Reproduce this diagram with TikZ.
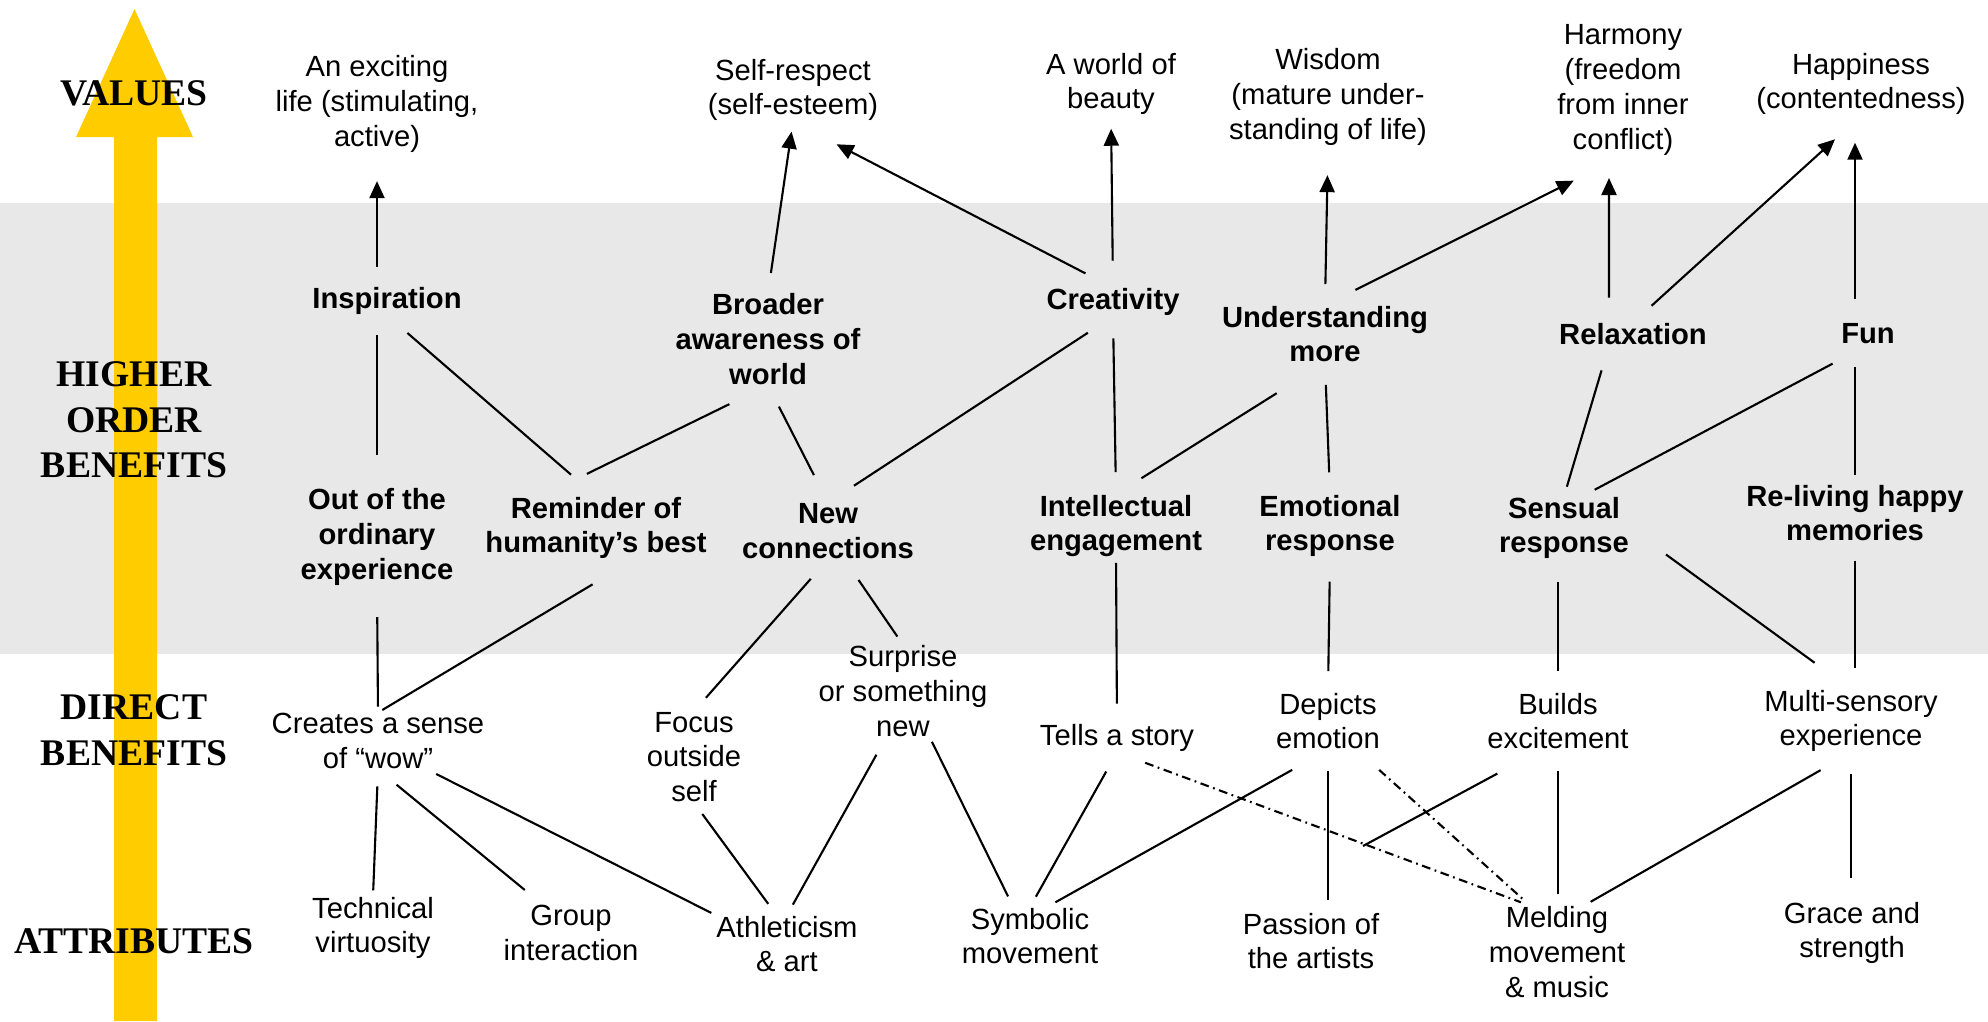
\documentclass[tikz,border=0pt]{standalone}
\usepackage{fontspec}
\setmainfont{Liberation Sans}
\newfontfamily\levelfont{Liberation Serif}
\usetikzlibrary{arrows.meta}

\definecolor{bandgray}{HTML}{E8E8E8}
\definecolor{ladder}{HTML}{FFCC00}

\tikzset{
  item/.style={align=center, inner sep=0pt, font=\fontsize{8.3}{9.9}\selectfont},
  benefit/.style={item, font=\fontsize{8.3}{9.9}\selectfont\bfseries},
  level/.style={align=center, inner sep=0pt, font=\levelfont\bfseries\fontsize{10.7}{13}\selectfont},
  link/.style={line width=0.6pt, shorten <=0.2cm, shorten >=0.2cm},
  lead/.style={link, -{Triangle[length=0.17cm,width=0.15cm]}},
  maybe/.style={link, dash pattern=on 2.5pt off 1.3pt on 0.5pt off 1.3pt},
}

\begin{document}
\begin{tikzpicture}[x=0.01cm, y=-0.01cm]
  % pixel grid of the slide, y runs downwards
  \useasboundingbox (0,0) rectangle (1988,1021);

  % grey band behind the higher order benefits
  \fill[bandgray] (0,203) rectangle (1988,654);

  % the yellow ladder arrow
  \fill[ladder] (114,1021) -- (114,137) -- (76,137) -- (134.5,9) --
                (193,137) -- (157,137) -- (157,1021) -- cycle;

  % level names
  \node[level] (lvalues) at (134,93) {VALUES};
  \node[level] (lhigher) at (134,420) {HIGHER\\ORDER\\BENEFITS};
  \node[level] (ldirect) at (134,730) {DIRECT\\BENEFITS};
  \node[level] (lattr)   at (134,941) {ATTRIBUTES};

  % values
  \node[item] (life)    at (377,104)  {An exciting\\life (stimulating,\\active)};
  \node[item] (respect) at (793,90)   {Self-respect\\(self-esteem)};
  \node[item] (beauty)  at (1111,84)  {A world of\\beauty};
  \node[item] (wisdom)  at (1328,97)  {Wisdom\\(mature under-\\standing of life)};
  \node[item] (harmony) at (1623,90)  {Harmony\\(freedom\\from inner\\conflict)};
  \node[item] (happy)   at (1861,84)  {Happiness\\(contentedness)};

  % higher order benefits, upper row
  \node[benefit] (insp)    at (387,301)  {Inspiration};
  \node[benefit] (broader) at (768,339)  {Broader\\awareness of\\world};
  \node[benefit] (creat)   at (1113,302) {Creativity};
  \node[benefit] (under)   at (1325,334) {Understanding\\more};
  \node[benefit] (relax)   at (1633,334) {Relaxation};
  \node[benefit] (fun)     at (1868,334) {Fun};

  % higher order benefits, lower row
  \node[benefit] (out)   at (377,537)  {Out of the\\ordinary\\experience};
  \node[benefit] (rem)   at (596,528)  {Reminder of\\humanity’s best};
  \node[benefit] (newc)  at (828,531)  {New\\connections};
  \node[benefit] (intel) at (1116,526) {Intellectual\\engagement};
  \node[benefit] (emot)  at (1330,526) {Emotional\\response};
  \node[benefit] (sens)  at (1564,528) {Sensual\\response};
  \node[benefit] (reliv) at (1855,513) {Re-living happy\\memories};

  % direct benefits
  \node[item] (wow)     at (378,741)  {Creates a sense\\of “wow”};
  \node[item] (focus)   at (694,757)  {Focus\\outside\\self};
  \node[item] (surp)    at (903,691)  {Surprise\\or something\\new};
  \node[item] (tells)   at (1117,738) {Tells a story};
  \node[item] (depicts) at (1328,721) {Depicts\\emotion};
  \node[item] (builds)  at (1558,721) {Builds\\excitement};
  \node[item] (multi)   at (1851,721) {Multi-sensory\\experience};

  % attributes
  \node[item] (tech)    at (373,928)  {Technical\\virtuosity};
  \node[item] (group)   at (571,933)  {Group\\interaction};
  \node[item] (athl)    at (787,944)  {Athleticism\\\& art};
  \node[item] (symb)    at (1030,936) {Symbolic\\movement};
  \node[item] (passion) at (1311,941) {Passion of\\the artists};
  \node[item] (meld)    at (1557,952) {Melding\\movement\\\& music};
  \node[item] (grace)   at (1852,933) {Grace and\\strength};

  % loose end of the line out of "Builds excitement"
  \coordinate (loose) at (1363,846);

  % higher order benefits lead to values
  \draw[lead, shorten >=0.28cm] (insp.north -| life.south) -- (life.south);
  \draw[lead, shorten >=0.1cm] (broader.north) -- (respect.south);
  \draw[lead, shorten <=0.31cm, shorten >=0.49cm] (creat.north) -- (respect.south);
  \draw[lead, shorten <=0.27cm, shorten >=0.13cm] (creat.north) -- (beauty.south);
  \draw[lead, shorten <=0.21cm, shorten >=0.29cm] (under.north) -- (wisdom.south);
  \draw[lead, shorten <=0.34cm, shorten >=0.55cm] (under.north) -- (harmony.south);
  \draw[lead, shorten <=0.25cm, shorten >=0.22cm] ([xshift=-0.24cm]relax.north) -- ([xshift=-0.14cm]harmony.south);
  \draw[lead, shorten <=0.25cm, shorten >=0.35cm] (relax.north) -- (happy.south);
  \draw[lead, shorten <=0.24cm, shorten >=0.27cm] (fun.north -| reliv.north) -- (happy.south -| reliv.north);

  % links between the higher order benefits
  \draw[link, shorten >=0.33cm] (insp.south -| out.north) -- (out.north);
  \draw[link, shorten <=0.27cm, shorten >=0.33cm] (insp.south) -- (rem.north);
  \draw[link, shorten <=0.43cm, shorten >=0.51cm] (broader.south) -- (rem.150);
  \draw[link, shorten <=0.24cm, shorten >=0.31cm] (broader.south) -- (newc.north);
  \draw[link, shorten <=0.3cm, shorten >=0.31cm] (creat.south) -- (newc.north);
  \draw[link, shorten <=0.22cm, shorten >=0.22cm] (creat.south) -- (intel.north);
  \draw[link, shorten <=0.57cm, shorten >=0.3cm] (under.south) -- (intel.north);
  \draw[link, shorten <=0.22cm, shorten >=0.22cm] (under.south) -- (emot.north);
  \draw[link, shorten <=0.26cm, shorten >=0.1cm] ([xshift=-0.24cm]relax.south) -- (sens.north);
  \draw[link, shorten <=0.4cm, shorten >=0.14cm] (fun.south) -- (sens.60);
  \draw[link, shorten <=0.22cm, shorten >=0.09cm] (fun.south -| reliv.north) -- (reliv.north);

  % higher order benefits down to direct benefits
  \draw[link, shorten <=0.31cm, shorten >=0.06cm] (out.south) -- (wow.north);
  \draw[link, shorten <=0.48cm, shorten >=0.05cm] (rem.-40) -- (wow.north);
  \draw[link, shorten <=0.26cm, shorten >=0.18cm] (newc.south) -- (focus.north);
  \draw[link, shorten <=0.25cm, shorten >=0.1cm] (newc.-60) -- (surp.north);
  \draw[link, shorten <=0.05cm, shorten >=0.2cm] (intel.south) -- (tells.north);
  \draw[link, shorten <=0.24cm, shorten >=0.21cm] (emot.south) -- (depicts.north);
  \draw[link, shorten <=0.22cm, shorten >=0.21cm] (sens.south -| builds.north) -- (builds.north);
  \draw[link, shorten <=0.45cm, shorten >=0.45cm] (sens.east) -- (multi.north);
  \draw[link, shorten <=0.19cm, shorten >=0.21cm] (reliv.south) -- (reliv.south |- multi.north);

  % direct benefits down to attributes
  \draw[link, shorten <=0.17cm, shorten >=0.06cm] (wow.south) -- (tech.north);
  \draw[link, shorten <=0.24cm, shorten >=0.23cm] (wow.south) -- (group.135);
  \draw[link, shorten <=0.1cm, shorten >=0.05cm] (wow.-30) -- (athl.north west);
  \draw[link, shorten <=0.14cm, shorten >=0.14cm] (focus.south) -- (athl.110);
  \draw[link, shorten <=0.2cm, shorten >=0.12cm] (surp.-110) -- (athl.north);
  \draw[link, shorten <=0.05cm, shorten >=0.12cm] (surp.-60) -- (symb.120);
  \draw[link, shorten <=0.22cm, shorten >=0.12cm] (tells.south) -- (symb.north);
  \draw[link, shorten <=0.41cm, shorten >=0.1cm] (depicts.south) -- (symb.60);
  \draw[link, shorten <=0.21cm, shorten >=0.12cm] (depicts.south) -- (depicts.south |- passion.north);
  \draw[link, shorten <=0.5cm, shorten >=0cm] (builds.-120) -- (loose);
  \draw[link, shorten <=0.21cm, shorten >=0.12cm] (builds.south) -- (builds.south |- meld.north);
  \draw[link, shorten <=0.35cm, shorten >=0.08cm] (multi.south) -- (meld.60);
  \draw[link, shorten <=0.21cm, shorten >=0.23cm] (multi.south) -- (multi.south |- grace.north);

  % weaker links are dash-dotted
  \draw[maybe, shorten <=0.3cm, shorten >=0.1cm] (tells.south) -- (meld.120);
  \draw[maybe, shorten <=0.3cm, shorten >=0.1cm] (depicts.-45) -- (meld.120);
\end{tikzpicture}
\end{document}
